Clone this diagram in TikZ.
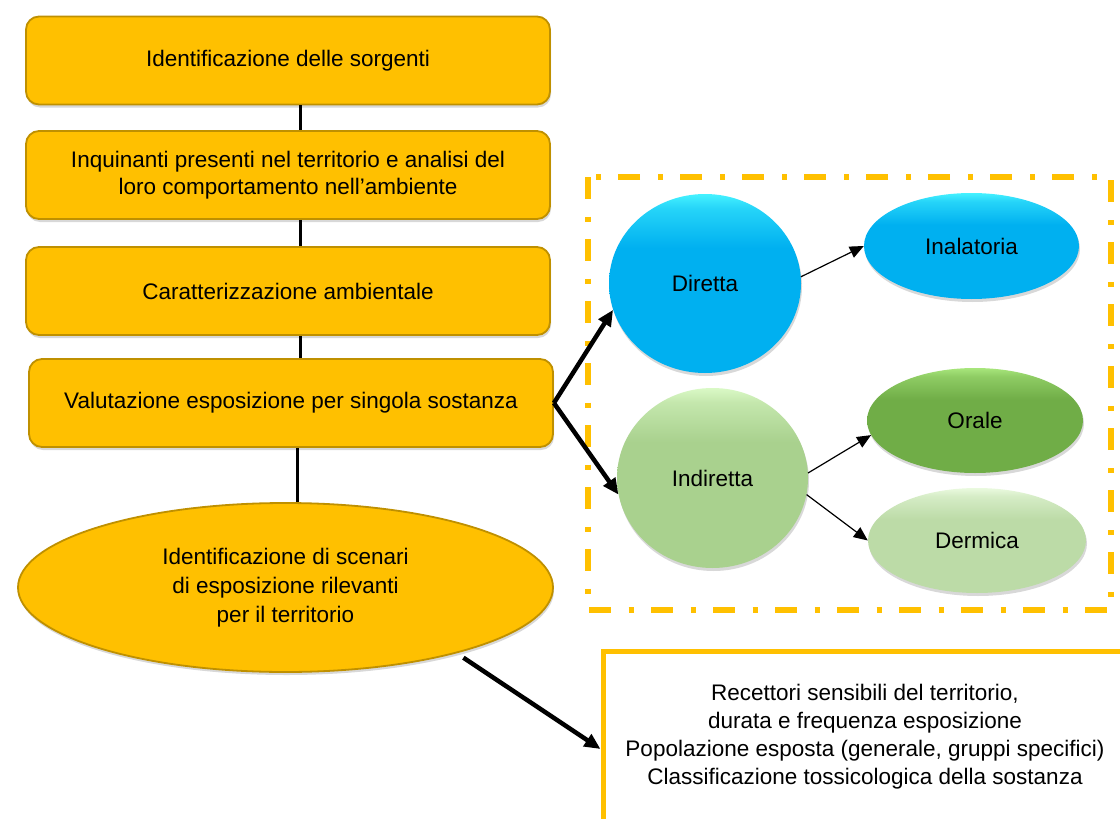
\documentclass[tikz,border=0pt]{standalone}
\usepackage{fontspec}
\setmainfont{Liberation Sans}
\usetikzlibrary{shapes.geometric,arrows.meta,shadows,calc}
\definecolor{gold}{HTML}{FFC000}
\definecolor{goldline}{HTML}{BF9000}
\definecolor{bluebase}{HTML}{00B0F0}
\definecolor{bluetop}{HTML}{45F2FF}
\definecolor{indbase}{HTML}{A9D18E}
\definecolor{indtop}{HTML}{DAF9C6}
\definecolor{oralbase}{HTML}{70AD47}
\definecolor{oraltop}{HTML}{A8E67C}
\definecolor{dermbase}{HTML}{BCDBA7}
\definecolor{dermtop}{HTML}{EAFADF}
\pgfdeclareverticalshading{shBlue}{100bp}{color(0bp)=(bluebase); color(60bp)=(bluebase); color(71bp)=(bluetop!55!bluebase); color(75bp)=(bluetop); color(100bp)=(bluetop)}
\pgfdeclareverticalshading{shInd}{100bp}{color(0bp)=(indbase); color(60bp)=(indbase); color(71bp)=(indtop!55!indbase); color(75bp)=(indtop); color(100bp)=(indtop)}
\pgfdeclareverticalshading{shOral}{100bp}{color(0bp)=(oralbase); color(60bp)=(oralbase); color(71bp)=(oraltop!55!oralbase); color(75bp)=(oraltop); color(100bp)=(oraltop)}
\pgfdeclareverticalshading{shDerm}{100bp}{color(0bp)=(dermbase); color(60bp)=(dermbase); color(71bp)=(dermtop!55!dermbase); color(75bp)=(dermtop); color(100bp)=(dermtop)}
\begin{document}
\begin{tikzpicture}[x=1pt,y=-1pt,
  every node/.style={font=\fontsize{22.5}{27}\selectfont, text=black, align=center, inner sep=0pt},
  softshadow/.style={drop shadow={shadow xshift=1pt, shadow yshift=-3pt, opacity=0.25, fill=black!60}},
  stepbox/.style={draw=goldline, line width=1.8pt, fill=gold, rounded corners=13pt,
    minimum width=524pt, minimum height=88pt, softshadow},
  bigell/.style={ellipse, draw=goldline, line width=1.8pt, fill=gold,
    minimum width=535pt, minimum height=169pt, softshadow,
    font=\fontsize{22.5}{29}\selectfont},
  ball/.style={ellipse, draw=none, softshadow},
  link/.style={line width=3pt},
  bigarrow/.style={line width=4.5pt, -{Triangle[length=16pt,width=14pt]}},
  thinarrow/.style={line width=1.2pt, -{Triangle[length=14pt,width=12pt]}},
  dashframe/.style={draw=gold, line width=5.5pt, dash pattern=on 22pt off 17.5pt on 5pt off 17.5pt},
  notebox/.style={draw=gold, line width=5pt, fill=white, minimum width=524pt, minimum height=172pt,
    font=\fontsize{22.5}{28}\selectfont}
]
\clip (0,0) rectangle (1120,819);
\fill[white] (0,0) rectangle (1120,819);

% left column
\node[stepbox] (b1) at (288,60.5) {Identificazione delle sorgenti};
\node[stepbox] (b2) at (288,175) {Inquinanti presenti nel territorio e analisi del\\loro comportamento nell’ambiente};
\node[stepbox] (b3) at (288,291) {Caratterizzazione ambientale};
\node[stepbox] (b4) at (291,403) {Valutazione esposizione per singola sostanza};
\node[bigell] (ell) at (285.5,587.5) {Identificazione di scenari\\di esposizione rilevanti\\per il territorio};

\coordinate (vx) at (300,0);
\coordinate (vy) at (297,0);
\draw[link] (b1.south -| vx) -- (b2.north -| vx);
\draw[link] (b2.south -| vx) -- (b3.north -| vx);
\draw[link] (b3.south -| vx) -- (b4.north -| vx);
\draw[link] (b4.south -| vy) -- (ell.north -| vy);

% dash-dot frame
\draw[dashframe] (588,177) rectangle (1111,610);

% exposure routes
\node[ball, minimum width=192pt, minimum height=179pt, shading=shBlue] (dir) at (705,283.5) {Diretta};
\node[ball, minimum width=191pt, minimum height=180pt, shading=shInd] (ind) at (712.5,478) {Indiretta};
\node[ball, minimum width=215pt, minimum height=106pt, shading=shBlue] (ina) at (971.5,246) {Inalatoria};
\node[ball, minimum width=216pt, minimum height=105pt, shading=shOral] (ora) at (975,420.5) {Orale};
\node[ball, minimum width=218pt, minimum height=105pt, shading=shDerm] (der) at (977,540.5) {Dermica};

\draw[bigarrow] (b4.east) -- (dir.196);
\draw[bigarrow] (b4.east) -- (ind.190);
\draw[thinarrow] (dir.4) -- (ina.west);
\draw[thinarrow] (ind.3) -- (ora.188);
\draw[thinarrow] (ind.-10) -- (der.west);

% note box
\node[notebox] (rb) at (865,737) {Recettori sensibili del territorio,\\durata e frequenza esposizione\\Popolazione esposta (generale, gruppi specifici)\\Classificazione tossicologica della sostanza};
\coordinate (rbin) at ($(rb.west)+(0,12)$);
\draw[bigarrow, shorten <=8pt] (ell.-21) -- (rbin);
\end{tikzpicture}
\end{document}
